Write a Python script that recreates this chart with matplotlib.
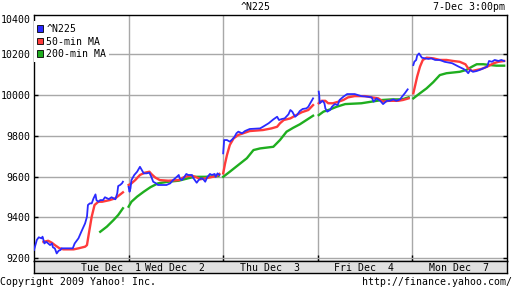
import matplotlib
matplotlib.use("Agg")
import matplotlib.pyplot as plt
from matplotlib.patches import Patch
import matplotlib.transforms as mtransforms

# session labels and where they sit on the time axis (day units)
day_labels = ["Tue Dec  1", "Wed Dec  2", "Thu Dec  3", "Fri Dec  4", "Mon Dec  7"]
day_label_pos = [0.81, 1.49, 2.49, 3.49, 4.49]

# one list per session: time as fraction of the session, price
n225_t = [
    [0.00, 0.03, 0.05, 0.08, 0.09, 0.10, 0.11, 0.13, 0.15, 0.17, 0.19, 0.20, 0.22, 0.24,
     0.26, 0.28, 0.29, 0.41, 0.43, 0.47, 0.50, 0.54, 0.56, 0.57, 0.59, 0.61, 0.63, 0.65,
     0.66, 0.68, 0.70, 0.73, 0.75, 0.79, 0.82, 0.86, 0.88, 0.89, 0.91, 0.93, 0.94],
    [0.00, 0.01, 0.02, 0.03, 0.06, 0.09, 0.12, 0.14, 0.16, 0.19, 0.22, 0.24, 0.26, 0.29,
     0.31, 0.40, 0.44, 0.47, 0.51, 0.53, 0.54, 0.56, 0.58, 0.61, 0.63, 0.67, 0.68, 0.70,
     0.72, 0.74, 0.77, 0.79, 0.81, 0.83, 0.86, 0.88, 0.91, 0.92, 0.94, 0.96],
    [0.00, 0.01, 0.04, 0.07, 0.10, 0.12, 0.14, 0.16, 0.20, 0.23, 0.28, 0.39, 0.42, 0.48,
     0.53, 0.57, 0.59, 0.62, 0.65, 0.69, 0.71, 0.73, 0.76, 0.78, 0.81, 0.84, 0.88, 0.90,
     0.92, 0.94, 0.95],
    [0.01, 0.015, 0.02, 0.05, 0.07, 0.08, 0.10, 0.13, 0.15, 0.18, 0.21, 0.23, 0.27, 0.31,
     0.39, 0.46, 0.53, 0.57, 0.59, 0.62, 0.66, 0.69, 0.73, 0.76, 0.80, 0.83, 0.87, 0.89,
     0.92, 0.95],
    [0.01, 0.02, 0.04, 0.05, 0.07, 0.10, 0.13, 0.17, 0.20, 0.24, 0.29, 0.34, 0.42, 0.49,
     0.54, 0.57, 0.59, 0.61, 0.64, 0.68, 0.71, 0.75, 0.79, 0.81, 0.84, 0.87, 0.91, 0.94,
     0.97],
]
n225 = [
    [9241, 9290, 9303, 9298, 9306, 9290, 9273, 9281, 9273, 9265, 9273, 9254, 9249, 9224,
     9237, 9241, 9249, 9249, 9273, 9298, 9330, 9371, 9404, 9461, 9469, 9469, 9494, 9513,
     9485, 9477, 9485, 9485, 9499, 9490, 9499, 9489, 9518, 9554, 9559, 9567, 9575],
    [9550, 9526, 9543, 9583, 9608, 9624, 9648, 9632, 9616, 9616, 9619, 9599, 9575, 9567,
     9559, 9559, 9567, 9583, 9599, 9608, 9592, 9583, 9592, 9613, 9608, 9608, 9596, 9583,
     9570, 9583, 9592, 9587, 9575, 9596, 9613, 9608, 9613, 9599, 9616, 9608],
    [9714, 9779, 9779, 9771, 9784, 9795, 9812, 9820, 9812, 9823, 9833, 9836, 9844, 9861,
     9880, 9893, 9877, 9882, 9885, 9905, 9926, 9918, 9893, 9901, 9921, 9931, 9934, 9942,
     9959, 9975, 9983],
    [10016, 9999, 9959, 9971, 9959, 9934, 9918, 9926, 9942, 9955, 9950, 9975, 9991, 10004,
     10004, 9994, 9991, 9988, 9967, 9983, 9971, 9955, 9971, 9971, 9978, 9971, 9978, 9991,
     10008, 10027],
    [10146, 10162, 10171, 10192, 10203, 10182, 10179, 10176, 10179, 10171, 10171, 10162,
     10155, 10138, 10127, 10117, 10106, 10122, 10113, 10117, 10122, 10130, 10138, 10166,
     10162, 10171, 10166, 10171, 10166],
]

ma50_t = [
    [0.10, 0.15, 0.19, 0.22, 0.27, 0.31, 0.42, 0.47, 0.54, 0.56, 0.58, 0.61, 0.64, 0.68,
     0.72, 0.80, 0.86, 0.89, 0.94],
    [0.00, 0.03, 0.07, 0.12, 0.17, 0.22, 0.24, 0.28, 0.33, 0.42, 0.53, 0.58, 0.63, 0.68,
     0.72, 0.76, 0.81, 0.86, 0.93, 0.96],
    [0.00, 0.02, 0.04, 0.07, 0.11, 0.16, 0.21, 0.28, 0.42, 0.51, 0.57, 0.60, 0.64, 0.71,
     0.76, 0.83, 0.90, 0.95],
    [0.01, 0.04, 0.08, 0.11, 0.16, 0.22, 0.27, 0.32, 0.39, 0.50, 0.57, 0.64, 0.69, 0.75,
     0.85, 0.90, 0.96],
    [0.01, 0.03, 0.05, 0.08, 0.11, 0.15, 0.22, 0.29, 0.36, 0.43, 0.50, 0.56, 0.59, 0.63,
     0.68, 0.73, 0.79, 0.86, 0.91, 0.97],
]
ma50 = [
    [9281, 9286, 9276, 9265, 9249, 9244, 9244, 9249, 9257, 9265, 9322, 9404, 9461, 9477,
     9477, 9485, 9494, 9505, 9523],
    [9559, 9567, 9583, 9608, 9619, 9624, 9613, 9596, 9583, 9580, 9583, 9596, 9603, 9603,
     9596, 9587, 9592, 9596, 9603, 9613],
    [9616, 9665, 9706, 9755, 9787, 9804, 9812, 9823, 9828, 9836, 9844, 9861, 9877, 9885,
     9898, 9915, 9926, 9950],
    [9959, 9971, 9971, 9959, 9959, 9967, 9975, 9988, 9994, 9994, 9988, 9983, 9967, 9971,
     9971, 9975, 9983],
    [10008, 10048, 10089, 10138, 10171, 10182, 10179, 10171, 10171, 10166, 10162, 10150,
     10130, 10117, 10122, 10127, 10138, 10155, 10162, 10166],
]

ma200_t = [
    [0.70, 0.77, 0.84, 0.89, 0.94],
    [0.00, 0.03, 0.09, 0.16, 0.23, 0.31, 0.42, 0.53, 0.63, 0.70, 0.81, 0.95],
    [0.00, 0.07, 0.16, 0.25, 0.32, 0.39, 0.53, 0.60, 0.67, 0.74, 0.81, 0.88, 0.95],
    [0.01, 0.06, 0.13, 0.20, 0.29, 0.46, 0.57, 0.68, 0.78, 0.89, 0.96],
    [0.01, 0.08, 0.15, 0.22, 0.29, 0.36, 0.50, 0.57, 0.63, 0.68, 0.75, 0.82, 0.89, 0.97],
]
ma200 = [
    [9330, 9355, 9387, 9412, 9445],
    [9453, 9477, 9502, 9526, 9548, 9567, 9575, 9580, 9592, 9599, 9599, 9603],
    [9599, 9624, 9657, 9690, 9730, 9738, 9746, 9779, 9820, 9839, 9856, 9877, 9898],
    [9901, 9918, 9929, 9942, 9955, 9959, 9967, 9975, 9978, 9978, 9988],
    [9983, 10008, 10032, 10062, 10097, 10106, 10113, 10122, 10138, 10150, 10150, 10146,
     10143, 10143],
]

y_ticks = [9200, 9400, 9600, 9800, 10000, 10200]

FONT = "DejaVu Sans Mono"
FS = 7.1
BLUE = "#2a2aff"
RED = "#ff3b3b"
GREEN = "#1fae1f"
GRID = "#a8a8a8"

fig = plt.figure(figsize=(5.12, 2.88), dpi=100)
fig.patch.set_facecolor("white")
ax = fig.add_axes([34 / 512, 27 / 288, 473 / 512, 246 / 288])

for k in range(5):
    ax.plot([k + t for t in ma200_t[k]], ma200[k], color=GREEN, lw=1.7, zorder=3)
    ax.plot([k + t for t in ma50_t[k]], ma50[k], color=RED, lw=1.7, zorder=4)
    ax.plot([k + t for t in n225_t[k]], n225[k], color=BLUE, lw=1.3, zorder=5)

ax.set_xlim(0, 5)
ax.set_ylim(9187, 10391)
ax.set_yticks(y_ticks)
ax.set_yticklabels([str(v) for v in y_ticks], fontsize=FS, family=FONT)
ax.set_xticks([1, 2, 3, 4])
ax.set_xticklabels([])
ax.grid(True, color=GRID, lw=1.0, zorder=0)
ax.tick_params(axis="y", direction="in", length=3, width=1, pad=2.5, right=True,
               colors="black")
ax.tick_params(axis="x", direction="in", length=4, width=1, colors="black")
for s in ax.spines.values():
    s.set_color("black")
    s.set_linewidth(1.0)

# top tick label sits just under the frame
trans = mtransforms.blended_transform_factory(ax.transAxes, ax.transData)
ax.text(-0.0065, 10366, "10400", transform=trans, ha="right", va="center",
        fontsize=FS, family=FONT)

handles = [Patch(facecolor=BLUE, edgecolor="black", lw=0.6),
           Patch(facecolor=RED, edgecolor="black", lw=0.6),
           Patch(facecolor=GREEN, edgecolor="black", lw=0.6)]
leg = ax.legend(handles, ["^N225", "50-min MA", "200-min MA"], loc="upper left",
                prop={"family": FONT, "size": FS}, frameon=True, fancybox=False,
                handlelength=0.65, handleheight=0.65, handletextpad=0.3,
                labelspacing=0.25, borderpad=0.3, borderaxespad=0.0,
                bbox_to_anchor=(0.0, 0.975))
leg.get_frame().set_edgecolor("none")
leg.get_frame().set_facecolor("white")
leg.get_frame().set_alpha(1)

# date band under the plot
band = fig.add_axes([34 / 512, 15 / 288, 473 / 512, 12 / 288])
band.set_facecolor("#e0e0e0")
band.set_xlim(0, 5)
band.set_ylim(0, 1)
band.set_xticks([])
band.set_yticks([])
for s in band.spines.values():
    s.set_color("black")
    s.set_linewidth(1.0)
for pos, lab in zip(day_label_pos, day_labels):
    band.text(pos, 0.45, lab, ha="center", va="center", fontsize=FS, family=FONT)

fig.text(256 / 512, 1 - 7 / 288, "^N225", ha="center", va="center", fontsize=FS, family=FONT)
fig.text(505 / 512, 1 - 7 / 288, "7-Dec 3:00pm", ha="right", va="center", fontsize=FS,
         family=FONT)
fig.text(0.0, 1 - 282 / 288, "Copyright 2009 Yahoo! Inc.", ha="left", va="center",
         fontsize=FS, family=FONT)
fig.text(1.0, 1 - 282 / 288, "http://finance.yahoo.com/", ha="right", va="center",
         fontsize=FS, family=FONT)

fig.savefig("out.png", dpi=100)
